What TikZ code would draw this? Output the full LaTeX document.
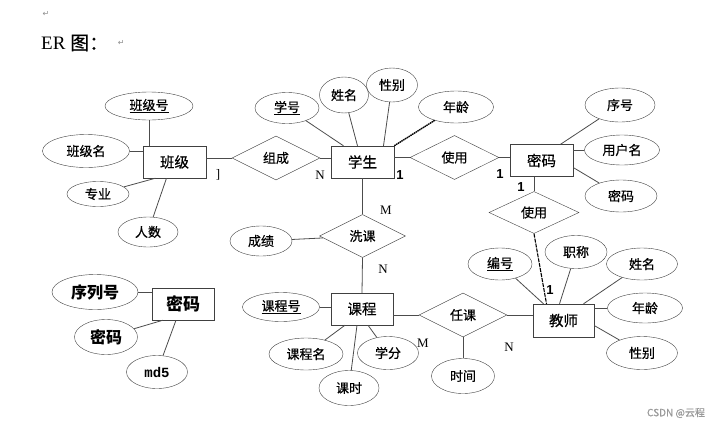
\documentclass[tikz,border=0pt]{standalone}
\usepackage{fontspec}
\setmainfont{Liberation Serif}
\newfontfamily\cjk[UprightFeatures={FakeBold=0.6}]{Noto Sans CJK SC}
\newfontfamily\symfont{DejaVu Sans}
\newfontfamily\onefont{Liberation Sans}
\newfontfamily\monofont{Liberation Mono}
\usetikzlibrary{shapes.geometric, positioning, calc}
\tikzset{
  ent/.style={draw=black!75, fill=white, minimum width=63pt, minimum height=32pt, font=\cjk\fontsize{14.5}{14.5}\selectfont},
  rel/.style={draw=black!75, diamond, inner sep=0pt, minimum width=88pt, minimum height=44pt, font=\cjk\fontsize{13}{13}\selectfont},
  attr/.style={draw=black!75, ellipse, inner sep=0pt, font=\cjk\fontsize{13}{13}\selectfont},
  lnk/.style={draw=black!70, line width=0.8pt},
  card/.style={font=\fontsize{13}{13}\selectfont},
  one/.style={font=\onefont\bfseries\fontsize{13}{13}\selectfont},
}
\begin{document}
\begin{tikzpicture}[x=1pt, y=-1pt]
  \useasboundingbox (0,0) rectangle (723,426);
  % header
  \node[text=black!45, font=\symfont\fontsize{8}{8}\selectfont] (r1) at (46,14) {↵};
  \node[anchor=west, font=\fontsize{19}{19}\selectfont, inner sep=0pt] (hd) at (41,43) {ER {\cjk 图：}};
  \node[text=black!45, font=\symfont\fontsize{8}{8}\selectfont, right=6pt of hd] (r2) {↵};

  % entities
  \node[ent] (cls) at (174.5,162) {班级};
  \node[ent] (stu) at (362.5,162) {学生};
  \node[ent] (pwd) at (541.5,160.5) {密码};
  \node[ent, minimum width=61pt, minimum height=33pt] (tch) at (563.5,320.5) {教师};
  \node[ent, minimum width=62pt] (crs) at (362,309) {课程};
  \node[ent, minimum width=62pt, font=\cjk\bfseries\fontsize{17}{17}\selectfont] (pw2) at (183,304) {密码};

  % relationships
  \node[rel] (zc) at (276,158) {组成};
  \node[rel, minimum width=89pt] (sy1) at (454.5,157.5) {使用};
  \node[rel, minimum width=90pt, minimum height=42pt] (sy2) at (534,212.5) {使用};
  \node[rel, minimum width=86pt, minimum height=43pt] (xk) at (362.5,236) {洗课};
  \node[rel] (rk) at (463,315) {任课};

  % attributes of 班级
  \node[attr, minimum width=88pt, minimum height=28pt] (c-no) at (149,106) {\underline{班级号}};
  \node[attr, minimum width=87pt, minimum height=33pt] (c-nm) at (86,151) {班级名};
  \node[attr, minimum width=62pt, minimum height=25pt] (c-mj) at (98,194) {专业};
  \node[attr, minimum width=60pt, minimum height=30pt] (c-ct) at (148,232) {人数};
  % attributes of 学生
  \node[attr, minimum width=64pt, minimum height=31pt] (s-no) at (287,108) {\underline{学号}};
  \node[attr, minimum width=49pt, minimum height=36pt] (s-nm) at (344,95) {姓名};
  \node[attr, minimum width=51pt, minimum height=34pt] (s-sx) at (392,85) {性别};
  \node[attr, minimum width=75pt, minimum height=32pt] (s-ag) at (456,107) {年龄};
  % attributes of 密码
  \node[attr, minimum width=70pt, minimum height=34pt] (p-no) at (620,105) {序号};
  \node[attr, minimum width=75pt, minimum height=30pt] (p-us) at (622,150) {用户名};
  \node[attr, minimum width=72pt, minimum height=32pt] (p-pw) at (621,196) {密码};
  % attributes of 教师
  \node[attr, minimum width=64pt, minimum height=32pt] (t-no) at (500,264) {\underline{编号}};
  \node[attr, minimum width=62pt, minimum height=33pt] (t-tt) at (576,252) {职称};
  \node[attr, minimum width=71pt, minimum height=32pt] (t-nm) at (642,264) {姓名};
  \node[attr, minimum width=75pt, minimum height=30pt] (t-ag) at (645,308) {年龄};
  \node[attr, minimum width=71pt, minimum height=33pt] (t-sx) at (642,353) {性别};
  % attributes of 课程
  \node[attr, minimum width=77pt, minimum height=29pt] (k-no) at (281,307) {\underline{课程号}};
  \node[attr, minimum width=74pt, minimum height=32pt] (k-nm) at (306,354) {课程名};
  \node[attr, minimum width=60pt, minimum height=35pt] (k-hr) at (349,388) {课时};
  \node[attr, minimum width=61pt, minimum height=33pt] (k-cr) at (388,353) {学分};
  % relationship attributes
  \node[attr, minimum width=62pt, minimum height=30pt] (cj) at (261,241) {成绩};
  \node[attr, minimum width=63pt, minimum height=35pt] (sj) at (463,376) {时间};
  % attributes of the second 密码
  \node[attr, minimum width=86pt, minimum height=35pt, font=\cjk\bfseries\fontsize{16}{16}\selectfont] (q-no) at (95,292) {序列号};
  \node[attr, minimum width=63pt, minimum height=35pt, font=\cjk\bfseries\fontsize{16}{16}\selectfont] (q-pw) at (106,337) {密码};
  \node[attr, minimum width=61pt, minimum height=33pt, font=\monofont\bfseries\fontsize{14}{14}\selectfont] (q-md) at (157,372) {md5};

  % connectors
  \draw[lnk] (cls.east |- zc.west) -- (zc.west);
  \draw[lnk] (zc.east) -- (zc.east -| stu.west);
  \draw[lnk] (stu.east |- sy1.west) -- (sy1.west);
  \draw[lnk] (sy1.east) -- (sy1.east -| pwd.west);
  \draw[lnk] (sy2.north |- pwd.south) -- (sy2.north);
  \draw[lnk, draw=black, line width=1.1pt, dash pattern=on 4pt off 1pt] (sy2.south) -- ([xshift=-17pt]tch.north);
  \draw[lnk] (stu.south) -- (xk.north);
  \draw[lnk] (xk.south) -- (crs.north);
  \draw[lnk] (cj) -- (xk);
  \draw[lnk] (crs.east |- rk.west) -- (rk.west);
  \draw[lnk] (rk.east) -- (rk.east -| tch.west);
  \draw[lnk] (rk.south) -- (sj);

  \draw[lnk] (c-no) -- (c-no |- cls.north);
  \draw[lnk] (c-nm.east) -- (c-nm.east -| cls.west);
  \draw[lnk] (c-mj) -- ([xshift=-19pt]cls.south);
  \draw[lnk] (c-ct) -- ([xshift=-8pt]cls.south);

  \draw[lnk] (s-no) -- ([xshift=-19pt]stu.north);
  \draw[lnk] (s-nm) -- ([xshift=-5pt]stu.north);
  \draw[lnk] (s-sx) -- ([xshift=21pt]stu.north);
  \draw[lnk, draw=black, line width=1.4pt, dash pattern=on 1.5pt off 0.6pt] (s-ag) -- (stu.north east);

  \draw[lnk] (p-no) -- ([xshift=19pt]pwd.north);
  \draw[lnk] (p-us.west) -- (p-us.west -| pwd.east);
  \draw[lnk] (p-pw) -- ([yshift=-7pt]pwd.east);

  \draw[lnk] (t-no) -- ([xshift=-20pt]tch.north);
  \draw[lnk] (t-tt) -- ([xshift=-4pt]tch.north);
  \draw[lnk] (t-nm) -- ([xshift=20pt]tch.north);
  \draw[lnk] (t-ag.west) -- (t-ag.west -| tch.east);
  \draw[lnk] (t-sx) -- ([yshift=-5pt]tch.east);

  \draw[lnk] (k-no.east) -- (k-no.east -| crs.west);
  \draw[lnk] (k-nm) -- ([xshift=-17pt]crs.south);
  \draw[lnk] (k-hr) -- ([xshift=-5pt]crs.south);
  \draw[lnk] (k-cr) -- ([xshift=6pt]crs.south);

  \draw[lnk] (q-no.east) -- (q-no.east -| pw2.west);
  \draw[lnk] (q-pw) -- ([xshift=-20pt]pw2.south);
  \draw[lnk] (q-md) -- ([xshift=-7pt]pw2.south);

  % cardinalities
  \node[card] (m1) at (218,175) {]};
  \node[card] (m2) at (320,175) {N};
  \node[one] (m3) at (400,175) {1};
  \node[one] (m4) at (500,174) {1};
  \node[one] (m5) at (521,187) {1};
  \node[card] (m6) at (386,210) {M};
  \node[card] (m7) at (383,269) {N};
  \node[one] (m8) at (550,290) {1};
  \node[card] (m9) at (423,343) {M};
  \node[card] (m10) at (509,347) {N};

  % watermark
  \node[text=black!40, font=\cjk\fontsize{10}{10}\selectfont] (wm) at (676,413) {CSDN @云程};
\end{tikzpicture}
\end{document}
